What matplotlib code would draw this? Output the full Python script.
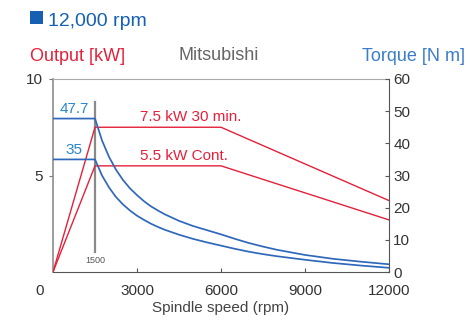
import matplotlib
matplotlib.use("Agg")
import matplotlib.pyplot as plt
import matplotlib.transforms as mtransforms
from matplotlib.patches import Rectangle

plt.rcParams['font.family'] = ['Liberation Sans', 'DejaVu Sans']

# ---- data ----
power_rpm = [0, 1500, 6000, 12000]
power_30min = [0, 7.5, 7.5, 3.7]
power_cont = [0, 5.5, 5.5, 2.7]

torque_rpm = [0, 1500, 1750, 2000, 2250, 2500, 2750, 3000, 3250, 3500, 3750, 4000, 4500,
              5000, 5500, 6000, 6500, 7000, 7500, 8000, 9000, 10000, 11000, 12000]
torque_30min = [47.7, 47.7, 40.9, 35.8, 31.8, 28.6, 26.0, 23.9, 22.0, 20.4, 19.1, 17.9, 15.9,
                14.3, 13.0, 11.7, 10.3, 9.0, 7.9, 6.9, 5.3, 4.1, 3.2, 2.4]
torque_cont = [35.0, 35.0, 30.0, 26.3, 23.3, 21.0, 19.1, 17.5, 16.2, 15.0, 14.0, 13.1, 11.6,
               10.3, 9.2, 8.2, 7.2, 6.3, 5.55, 4.9, 3.8, 2.8, 2.0, 1.3]

base_rpm = 1500
torque_labels = ["47.7", "35"]
power_labels = ["7.5 kW 30 min.", "5.5 kW Cont."]
x_ticks = [3000, 6000, 9000, 12000]
x_ticklabels = ["3000", "6000", "9000", "12000"]
left_ticks = [5, 10]
right_ticks = [0, 10, 20, 30, 40, 50, 60]

RED = '#e5203a'
BLUE = '#2f68bb'
BLUE_TXT = '#2a86cc'
TITLE_BLUE = '#1560b2'

fig = plt.figure(figsize=(4.71, 3.25), dpi=100)
W, H = 471, 325
ax = fig.add_axes([53 / W, 1 - 272 / H, (389 - 53) / W, (272 - 79) / H])
ax2 = ax.twinx()

ax.set_xlim(0, 12000)
ax.set_ylim(0, 10)
ax2.set_ylim(0, 60)

# power (red)
ax.plot(power_rpm, power_30min, color=RED, lw=1.0, zorder=3)
ax.plot(power_rpm, power_cont, color=RED, lw=1.0, zorder=3)

# torque (blue)
ax2.plot(torque_rpm, torque_30min, color=BLUE, lw=1.25, zorder=3)
ax2.plot(torque_rpm, torque_cont, color=BLUE, lw=1.25, zorder=3)

# base speed marker
ax.axvline(base_rpm, ymin=0.104, ymax=0.881, color='#8a8a8a', lw=1.6, zorder=2)
trans_b = mtransforms.blended_transform_factory(ax.transData, ax.transAxes)
ax.text(base_rpm, 0.057, str(base_rpm), transform=trans_b, ha='center', va='center',
        fontsize=6.5, color='#555555')

# labels for torque levels
for val, lab in zip([torque_30min[0], torque_cont[0]], torque_labels):
    ax2.annotate(lab, xy=(base_rpm / 2, val), xytext=(0, 4), textcoords='offset points',
                 ha='center', va='baseline', fontsize=11, color=BLUE_TXT)

# labels for power levels
for val, lab in zip([power_30min[1], power_cont[1]], power_labels):
    ax.annotate(lab, xy=(3100, val), xytext=(0, 4.2), textcoords='offset points',
                ha='left', va='baseline', fontsize=11, color=RED)

# spines
for s in ax2.spines.values():
    s.set_visible(False)
ax2.spines['right'].set_visible(True)
ax2.spines['right'].set_color('#555555')
ax.spines['right'].set_visible(False)
ax.spines['left'].set_color('#8c8c8c')
ax.spines['left'].set_linewidth(1.2)
ax.spines['bottom'].set_color('#555555')
ax.spines['top'].set_color('#aaaaaa')

# ticks
ax.set_xticks(x_ticks)
ax.set_xticklabels(x_ticklabels)
ax.tick_params(axis='x', direction='in', length=3, pad=8.5, labelsize=11,
               colors='#555555', labelcolor='#333333')
ax.set_yticks(left_ticks)
ax.set_yticklabels([str(t) for t in left_ticks])
ax.tick_params(axis='y', direction='out', length=3, pad=4, labelsize=11,
               colors='#777777', labelcolor='#333333')
ax2.set_yticks(right_ticks)
ax2.set_yticklabels([str(t) for t in right_ticks])
ax2.tick_params(axis='y', direction='in', length=3, pad=3, labelsize=11,
                colors='#555555', labelcolor='#333333')

# "0" x label, offset left of the axis
off = mtransforms.offset_copy(ax.transData, fig=fig, x=-13, y=-12, units='dots')
ax.text(0, 0, "0", transform=off, ha='center', va='top', fontsize=11, color='#333333')

ax.set_xlabel("Spindle speed (rpm)", fontsize=11, color='#444444', labelpad=2)

# header texts
fig.patches.append(Rectangle((30 / W, 1 - 24 / H), 13 / W, 13 / H, transform=fig.transFigure,
                             facecolor=TITLE_BLUE, edgecolor='none'))
fig.text(48 / W, 1 - 26 / H, "12,000 rpm", fontsize=14, color=TITLE_BLUE, ha='left', va='baseline')
fig.text(30 / W, 1 - 61 / H, "Output [kW]", fontsize=13, color=RED, ha='left', va='baseline')
fig.text(178 / W, 1 - 60 / H, "Mitsubishi", fontsize=13, color='#666666', ha='left', va='baseline')
fig.text(465 / W, 1 - 61 / H, "Torque [N m]", fontsize=13, color='#3a7dc8', ha='right', va='baseline')

fig.savefig("out.png", dpi=100)
